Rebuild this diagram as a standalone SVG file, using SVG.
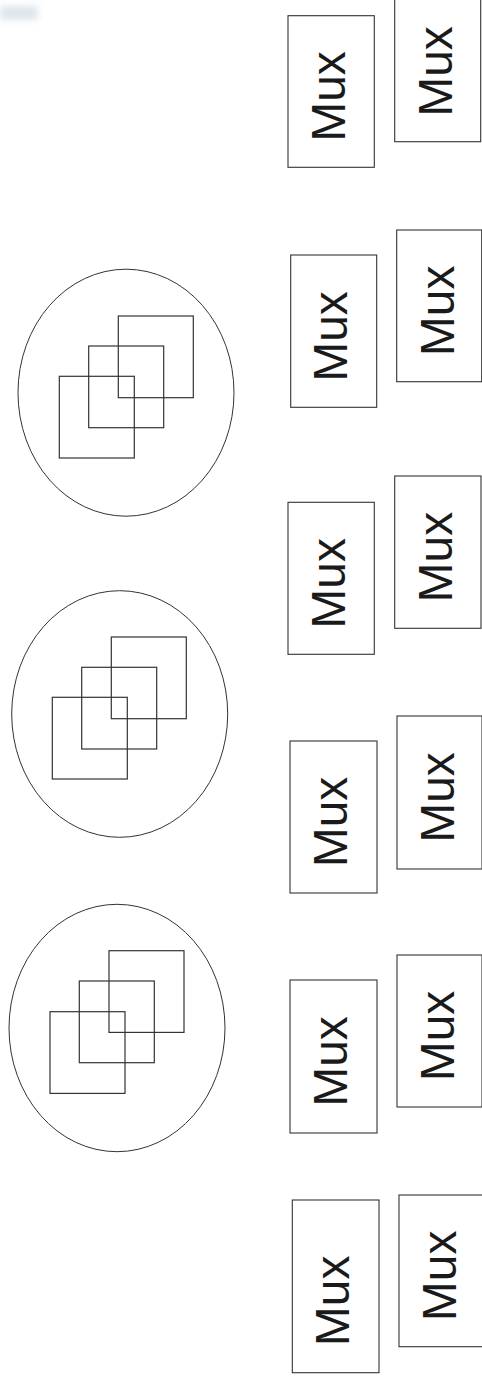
<svg xmlns="http://www.w3.org/2000/svg" width="482" height="1384" viewBox="0 0 482 1384">
<style>
.box{fill:#fff;stroke:#333;stroke-width:1.1}
.lbl{font-family:"Liberation Sans",Arial,sans-serif;font-size:48px;fill:#1a1a1a;text-anchor:middle}
.ell{fill:none;stroke:#333;stroke-width:1}
.sq{fill:none;stroke:#333;stroke-width:1.2}
</style>
<defs>
<filter id="blur" x="-50%" y="-50%" width="200%" height="200%"><feGaussianBlur stdDeviation="3"/></filter>
</defs>
<rect id="smudge" x="0" y="6" width="38" height="14" fill="#b9c9d4" opacity="0.45" filter="url(#blur)"/>
<g id="connectors"/>
<g id="group1">
<ellipse class="ell" cx="126" cy="392.7" rx="108" ry="123.5"/>
<rect class="sq" x="59.3" y="376.3" width="75" height="81.7"/>
<rect class="sq" x="88.7" y="346" width="75" height="81.7"/>
<rect class="sq" x="118.3" y="316" width="75" height="81.7"/>
</g>
<g id="group2">
<ellipse class="ell" cx="119.7" cy="714" rx="108" ry="123.3"/>
<rect class="sq" x="52.3" y="697.3" width="75" height="81.7"/>
<rect class="sq" x="81.7" y="667.3" width="75" height="81.7"/>
<rect class="sq" x="111.3" y="637" width="75" height="81.7"/>
</g>
<g id="group3">
<ellipse class="ell" cx="117" cy="1028" rx="108" ry="123.7"/>
<rect class="sq" x="50" y="1011.7" width="75" height="81.7"/>
<rect class="sq" x="79.3" y="981" width="75" height="81.7"/>
<rect class="sq" x="109" y="950.7" width="75" height="81.7"/>
</g>
<g id="mux1"><rect class="box" x="288" y="15.7" width="86.3" height="151.6"/><text class="lbl" transform="translate(345,96.5) rotate(-90)">Mux</text></g>
<g id="mux2"><rect class="box" x="394.7" y="-10" width="86" height="151.7"/><text class="lbl" transform="translate(452,71.5) rotate(-90)">Mux</text></g>
<g id="mux3"><rect class="box" x="290.7" y="255" width="86" height="152.3"/><text class="lbl" transform="translate(347,336.5) rotate(-90)">Mux</text></g>
<g id="mux4"><rect class="box" x="396.7" y="230" width="85" height="151.7"/><text class="lbl" transform="translate(453.5,310.8) rotate(-90)">Mux</text></g>
<g id="mux5"><rect class="box" x="288" y="502.3" width="86.3" height="152"/><text class="lbl" transform="translate(345,583.3) rotate(-90)">Mux</text></g>
<g id="mux6"><rect class="box" x="394.7" y="476" width="86.3" height="152.3"/><text class="lbl" transform="translate(451.7,557.2) rotate(-90)">Mux</text></g>
<g id="mux7"><rect class="box" x="290" y="741" width="87" height="152"/><text class="lbl" transform="translate(347,822) rotate(-90)">Mux</text></g>
<g id="mux8"><rect class="box" x="397" y="716" width="85" height="153"/><text class="lbl" transform="translate(454,797.5) rotate(-90)">Mux</text></g>
<g id="mux9"><rect class="box" x="290" y="980" width="87" height="153"/><text class="lbl" transform="translate(347,1061.5) rotate(-90)">Mux</text></g>
<g id="mux10"><rect class="box" x="397" y="955" width="85" height="152"/><text class="lbl" transform="translate(454,1036) rotate(-90)">Mux</text></g>
<g id="mux11"><rect class="box" x="292.3" y="1200" width="86.7" height="172.7"/><text class="lbl" transform="translate(349.3,1300.8) rotate(-90)">Mux</text></g>
<g id="mux12"><rect class="box" x="399" y="1195" width="85" height="151.7"/><text class="lbl" transform="translate(455.7,1275.8) rotate(-90)">Mux</text></g>
</svg>
